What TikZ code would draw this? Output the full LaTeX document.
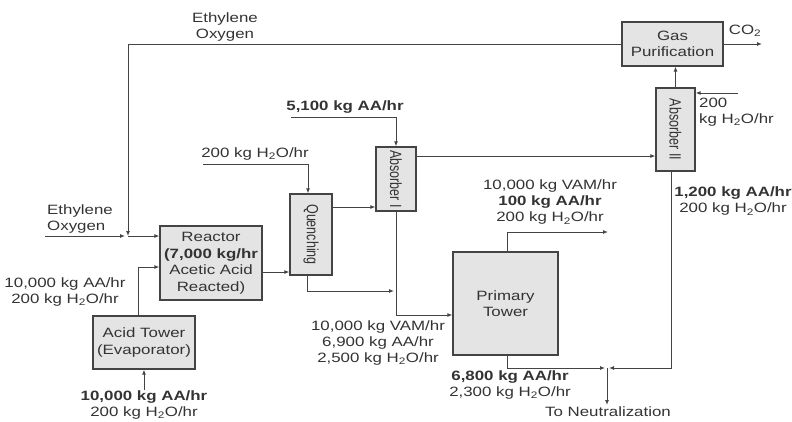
\documentclass[tikz,border=0pt]{standalone}
\usepackage{fontspec}
\setmainfont{Liberation Sans}[FakeStretch=1.25]
\newfontfamily\rotfont{Liberation Sans}
\usetikzlibrary{arrows.meta}
\definecolor{linecol}{HTML}{444444}
\definecolor{boxfill}{HTML}{E4E4E4}
\definecolor{textcol}{HTML}{333333}
\newcommand{\HtwoO}{H\textsubscript{2}O}
\newcommand{\vtext}[1]{\rotatebox{-90}{\scalebox{1}[1.3]{#1}}}
\begin{document}
\begin{tikzpicture}[x=1pt,y=-1pt,
  unit/.style={draw=linecol, fill=boxfill, line width=1.2pt, inner sep=0pt,
    align=center, text=textcol, font=\fontsize{13.5}{16.5}\selectfont},
  vunit/.style={unit, font=\rotfont\fontsize{12.5}{14}\selectfont},
  flow/.style={draw=linecol, line width=1pt, -{Latex[length=5pt,width=4pt]}},
  lbl/.style={font=\fontsize{13.5}{16}\selectfont, align=center, inner sep=0pt, text=textcol}]
\useasboundingbox (0,0) rectangle (792,421);

% units
\node[unit, minimum width=101pt, minimum height=44pt] (gas) at (672.5,44) {Gas\\Purification};
\node[vunit, minimum width=39pt, minimum height=83pt] (absII) at (675.5,129.5) {\vtext{Absorber II}};
\node[vunit, minimum width=40pt, minimum height=64pt] (absI) at (396,179) {\vtext{Absorber I}};
\node[vunit, minimum width=42pt, minimum height=81pt] (quench) at (311,234.5) {\vtext{Quenching}};
\node[unit, minimum width=102pt, minimum height=74pt] (reactor) at (211,263) {Reactor\\\textbf{(7,000 kg/hr}\\Acetic Acid\\Reacted)};
\node[unit, minimum width=102pt, minimum height=53pt] (acid) at (144,342.5) {Acid Tower\\(Evaporator)};
\node[unit, minimum width=105pt, minimum height=103pt] (primary) at (505.5,303.5) {Primary\\Tower};

% free ends
\coordinate (ethL) at (45,236);
\coordinate (mergeA) at (128,236);
\coordinate (acidin) at (144,390);
\coordinate (qin) at (203,164);
\coordinate (aain) at (291,117);
\coordinate (m2) at (396,291);
\coordinate (vamout) at (608,232);
\coordinate (neut) at (607,368);
\coordinate (neutout) at (607,405);
\coordinate (co2) at (762,44);
\coordinate (w2) at (738,93);

% connectors
\draw[flow] (gas.west) -| (mergeA);
\draw[flow] (ethL) -- ([xshift=-3pt]mergeA);
\draw[flow] (mergeA) -- (reactor.west |- mergeA);
\draw[flow] ([xshift=-6pt]acid.north) |- ([yshift=-4pt]reactor.west);
\draw[flow] (acidin) -- (acid.south);
\draw[flow] ([yshift=-9pt]reactor.east) -- ([yshift=-9pt]reactor.east -| quench.west);
\draw[flow] (qin) -| ([xshift=-3pt]quench.north);
\draw[flow] (quench.east |- 0,207) -- (absI.west |- 0,207);
\draw[flow] (aain) -| (absI.north);
\draw[flow] (absI.east |- 0,156) -- (absII.west |- 0,156);
\draw[flow] (absI.south) |- (primary.west |- 0,315);
\draw[flow] ([xshift=-4pt]quench.south) |- ([xshift=-2pt]m2);
\draw[flow] ([xshift=1.5pt]primary.north) |- (vamout);
\draw[flow] ([xshift=1.5pt]primary.south) |- ([xshift=-2pt]neut);
\draw[flow] ([xshift=-4.5pt]absII.south) |- ([xshift=2pt]neut);
\draw[flow] (neut) -- (neutout);
\draw[flow] (absII.north) -- (absII.north |- gas.south);
\draw[flow] (gas.east) -- (co2);
\draw[flow] (w2) -- (absII.east |- w2);

% labels
\node[lbl] (l1) at (225,27) {Ethylene\\Oxygen};
\node[lbl, anchor=west, align=left] (l2) at (47,219) {Ethylene\\Oxygen};
\node[lbl] (l3) at (255,154) {200 kg \HtwoO/hr};
\node[lbl] (l4) at (345,107) {\textbf{5,100 kg AA/hr}};
\node[lbl] (l5) at (65,292) {10,000 kg AA/hr\\200 kg \HtwoO/hr};
\node[lbl] (l6) at (144,405) {\textbf{10,000 kg AA/hr}\\200 kg \HtwoO/hr};
\node[lbl] (l7) at (378,343) {10,000 kg VAM/hr\\6,900 kg AA/hr\\2,500 kg \HtwoO/hr};
\node[lbl] (l8) at (550,202.5) {10,000 kg VAM/hr\\\textbf{100 kg AA/hr}\\200 kg \HtwoO/hr};
\node[lbl] (l9) at (733,201.5) {\textbf{1,200 kg AA/hr}\\200 kg \HtwoO/hr};
\node[lbl, anchor=west, align=left] (l10) at (699,112) {200\\kg \HtwoO/hr};
\node[lbl] (l11) at (745,31) {CO\textsubscript{2}};
\node[lbl] (l12) at (510,385) {\textbf{6,800 kg AA/hr}\\2,300 kg \HtwoO/hr};
\node[lbl] (l13) at (608,412) {To Neutralization};
\end{tikzpicture}
\end{document}
